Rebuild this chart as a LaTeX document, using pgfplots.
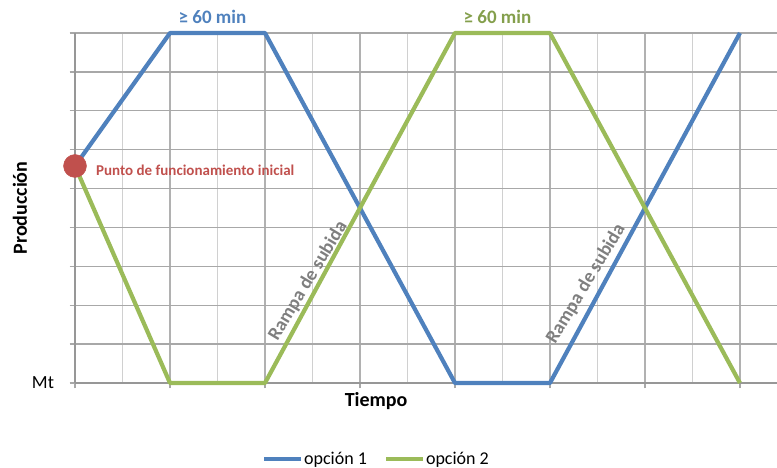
\documentclass[border=0pt]{standalone}
\usepackage{pgfplots}
\pgfplotsset{compat=1.18}
\usepackage{fontspec}
\setmainfont{Carlito}
\definecolor{cblue}{HTML}{4F81BD}
\definecolor{cgreen}{HTML}{9BBB59}
\definecolor{cred}{HTML}{C0504D}
\definecolor{cgray}{HTML}{7F7F7F}
\definecolor{gmajor}{HTML}{A8A8A8}
\definecolor{gminor}{HTML}{D0D0D0}
\begin{document}
\begin{tikzpicture}
\useasboundingbox (0,0) rectangle (777pt,468pt);
\begin{axis}[
  at={(75pt,85pt)}, anchor=south west,
  scale only axis, width=702pt, height=350pt,
  xmin=0, xmax=7.39, ymin=0, ymax=9,
  clip=false,
  axis x line*=bottom, axis y line*=left,
  axis line style={color=gmajor!90!black, line width=1.3pt, -},
  xtick={0,...,7}, xticklabels={},
  minor xtick={0.5,1.5,...,6.5},
  ytick={0,...,9}, yticklabels={Mt},
  /pgf/number format/assume math mode=true,
  tick align=outside, major tick length=5.5pt, minor tick length=0pt,
  tick style={color=gmajor, line width=1.3pt},
  grid=both,
  major x grid style={color=gminor!85!black, line width=1.3pt},
  minor x grid style={color=gminor, line width=1.3pt},
  major y grid style={color=gmajor, line width=1.3pt},
  yticklabel style={font=\fontsize{18.5}{20}\selectfont, xshift=-12pt},
  legend style={at={(rel axis cs:0.4288,-0.217)}, anchor=center, draw=none,
    fill=none, font=\fontsize{18}{20}\selectfont, legend columns=2,
    /tikz/every even column/.append style={column sep=16pt},
    nodes={inner xsep=1pt}},
  legend cell align=left,
  legend image code/.code={\draw[#1, line width=4pt] (0pt,0pt) -- (37pt,0pt);},
]
\addplot[cblue, line width=4.2pt, line join=round] coordinates {
  (0,5.58) (1,9) (2,9) (4,0) (5,0) (7,9)};
\addlegendentry{opción 1}
\addplot[cgreen, line width=4.2pt, line join=round] coordinates {
  (0,5.58) (1,0) (2,0) (4,9) (5,9) (7,0)};
\addlegendentry{opción 2}
\addplot[only marks, mark=*, mark size=11.5pt, color=cred, forget plot] coordinates {(0,5.58)};

\node[anchor=west, inner sep=0pt, text=cred, font=\bfseries\fontsize{15}{17}\selectfont, xshift=21pt, yshift=-4pt] at (axis cs:0,5.58) {Punto de funcionamiento inicial};
\node[text=cblue, font=\bfseries\fontsize{19}{21}\selectfont, xshift=-5pt, yshift=16pt, inner sep=0pt] at (axis cs:1.5,9) {≥ 60 min};
\node[text=cgreen!85!black, font=\bfseries\fontsize{19}{21}\selectfont, xshift=-5pt, yshift=16pt, inner sep=0pt] at (axis cs:4.5,9) {≥ 60 min};
\node[text=cgray, rotate=59, font=\bfseries\fontsize{19}{21}\selectfont, inner sep=0pt] at (axis cs:2.453,2.62) {Rampa de subida};
\node[text=cgray, rotate=59, font=\bfseries\fontsize{19}{21}\selectfont, inner sep=0pt] at (axis cs:5.379,2.55) {Rampa de subida};
\node[font=\bfseries\fontsize{20}{22}\selectfont, inner sep=0pt, yshift=-18pt] at (axis cs:3.17,0) {Tiempo};
\node[font=\bfseries\fontsize{20}{22}\selectfont, rotate=90, inner sep=0pt] at ([xshift=-55pt]rel axis cs:0,0.5) {Producción};
\end{axis}
\end{tikzpicture}
\end{document}
